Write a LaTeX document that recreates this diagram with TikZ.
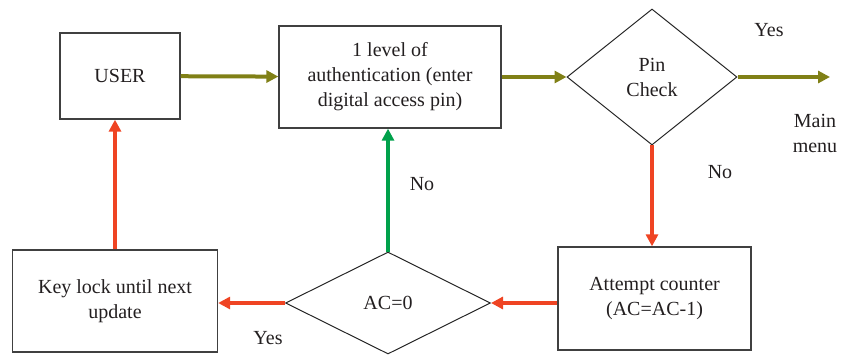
\documentclass[tikz,border=0pt]{standalone}
\usepackage{fontspec}
\setmainfont{Liberation Serif}
\usepackage{xcolor}
\usepackage{tikz}
\usetikzlibrary{arrows.meta,shapes.geometric}
\definecolor{flowolive}{RGB}{128,128,22}
\definecolor{flowred}{RGB}{239,68,35}
\definecolor{flowgreen}{RGB}{0,161,75}
\definecolor{boxgray}{RGB}{64,64,64}
\definecolor{txtgray}{RGB}{35,31,32}

\tikzset{
	procbox/.style={draw=boxgray, line width=1.3pt, align=center, inner sep=0pt, text=txtgray},
	decision/.style={diamond, draw=black!85, line width=1pt, align=center, inner sep=0pt, text=txtgray},
	flow/.style={line width=4pt, -{Triangle[length=12pt,width=12pt]}},
	lbl/.style={text=txtgray, align=center}
}

\begin{document}
\begin{tikzpicture}[x=1pt,y=-1pt,font=\fontsize{20}{25}\selectfont]
				\useasboundingbox (0,0) rectangle (842,355);
				
				% Boxes
				\node[procbox, minimum width=120pt, minimum height=86pt] (user) at (120,76) {USER};
				\node[procbox, minimum width=222pt, minimum height=102pt] (auth) at (390,77) {1 level of\\authentication (enter\\digital access pin)};
				\node[procbox, minimum width=205pt, minimum height=102pt] (keylock) at (115,301) {Key lock until next\\update};
				\node[procbox, minimum width=193pt, minimum height=103pt] (counter) at (654.5,298.5) {Attempt counter\\(AC=AC-1)};
				
				% Decisions
				\node[decision, minimum width=170pt, minimum height=136pt] (pin) at (652,77) {Pin\\Check};
				\node[decision, minimum width=205pt, minimum height=102pt] (ac) at (388,303) {AC=0};
				\coordinate (menu) at (830,77);
				
				% Labels
				\node[lbl] (yestop) at (769,30) {Yes};
				\node[lbl] (mainmenu) at (815,133) {Main\\menu};
				\node[lbl] (nopin) at (720,172) {No};
				\node[lbl] (noac) at (422,184) {No};
				\node[lbl] (yesac) at (268,338) {Yes};
				
				% Arrows
				\draw[flow, flowolive] (user) -- (auth);
				\draw[flow, flowolive] (auth) -- (pin);
				\draw[flow, flowolive] (pin.east) -- (menu);
				\draw[flow, flowred] (pin.south) -- (pin.south |- counter.north);
				\draw[flow, flowred] (counter.west |- ac.east) -- (ac.east);
				\draw[flow, flowred] (ac.west) -- (keylock.east |- ac.west);
				\draw[flow, flowgreen] (ac.north) -- (ac.north |- auth.south);
				\draw[flow, flowred] (keylock.north) -- (keylock.north |- user.south);
				
			\end{tikzpicture}
\end{document}
